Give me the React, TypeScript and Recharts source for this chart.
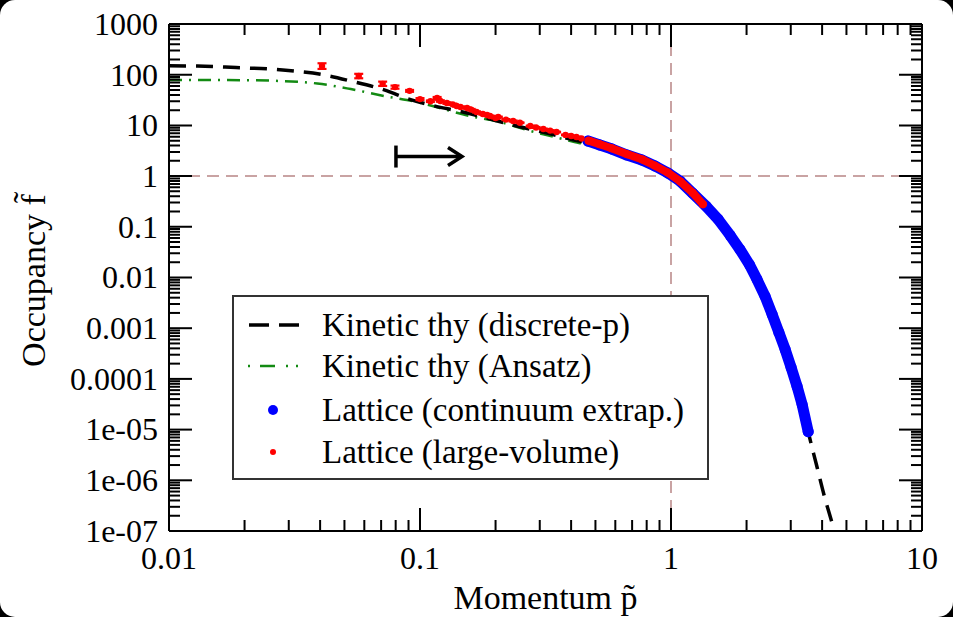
import React from 'react';
import {
  ComposedChart,
  Line,
  Scatter,
  XAxis,
  YAxis,
  ReferenceLine,
  Legend,
  ErrorBar,
} from 'recharts';

const FONT = '"Liberation Serif", "Times New Roman", Times, serif';

// ---------- ticks ----------
const xMajorTicks = [0.01, 0.1, 1, 10];
const xTickLabels = ['0.01', '0.1', '1', '10'];
const yMajorTicks = [1e-7, 1e-6, 1e-5, 1e-4, 1e-3, 0.01, 0.1, 1, 10, 100, 1000];
const yTickLabels = ['1e-07', '1e-06', '1e-05', '0.0001', '0.001', '0.01', '0.1', '1', '10', '100', '1000'];
const minorMultipliers = [2, 3, 4, 5, 6, 7, 8, 9];

const withMinors = (majors: number[]) => {
  const out: number[] = [];
  majors.forEach((m, i) => {
    out.push(m);
    if (i < majors.length - 1) minorMultipliers.forEach((k) => out.push(k * m));
  });
  return out;
};
const xTicks = withMinors(xMajorTicks);
const yTicks = withMinors(yMajorTicks);

// ---------- data ----------
// Kinetic theory (discrete-p), black dashed
const discreteP = [
  { p: 0.01, f: 150 }, { p: 0.013, f: 148 }, { p: 0.0185, f: 138 }, { p: 0.026, f: 128 },
  { p: 0.032, f: 117 }, { p: 0.041, f: 100 }, { p: 0.053, f: 75 }, { p: 0.074, f: 48 },
  { p: 0.0887, f: 34 }, { p: 0.113, f: 24.5 }, { p: 0.148, f: 18.4 }, { p: 0.2, f: 12.5 },
  { p: 0.25, f: 9.4 }, { p: 0.33, f: 6.8 }, { p: 0.43, f: 4.9 }, { p: 0.52, f: 4.1 },
  { p: 0.67, f: 2.6 }, { p: 0.86, f: 1.58 }, { p: 1.09, f: 0.8 }, { p: 1.38, f: 0.255 },
  { p: 1.72, f: 0.068 }, { p: 2.05, f: 0.0182 }, { p: 2.37, f: 0.00425 }, { p: 2.69, f: 8.3e-4 },
  { p: 3.01, f: 1.68e-4 }, { p: 3.33, f: 3.1e-5 }, { p: 3.52, f: 9.1e-6 }, { p: 3.8, f: 2.0e-6 },
  { p: 4.1, f: 4.5e-7 }, { p: 4.38, f: 1.45e-7 }, { p: 4.55, f: 7e-8 },
];

// Kinetic theory (Ansatz), green dash-dot
const ansatz = [
  { p: 0.01, f: 79 }, { p: 0.02, f: 78 }, { p: 0.028, f: 75 }, { p: 0.039, f: 67 },
  { p: 0.053, f: 52 }, { p: 0.074, f: 37 }, { p: 0.097, f: 29 }, { p: 0.12, f: 22 },
  { p: 0.158, f: 15.3 }, { p: 0.208, f: 11.7 }, { p: 0.275, f: 7.8 }, { p: 0.37, f: 5.4 },
  { p: 0.43, f: 4.5 }, { p: 0.52, f: 3.9 }, { p: 0.67, f: 2.5 }, { p: 0.86, f: 1.5 },
  { p: 1.0, f: 1.05 },
];

// Lattice (continuum extrap.), blue
const continuum = [
  { p: 0.467, f: 4.92 }, { p: 0.521, f: 4.1 }, { p: 0.582, f: 3.42 }, { p: 0.668, f: 2.6 },
  { p: 0.766, f: 2.07 }, { p: 0.864, f: 1.58 }, { p: 0.973, f: 1.15 }, { p: 1.086, f: 0.8 },
  { p: 1.22, f: 0.46 }, { p: 1.38, f: 0.255 }, { p: 1.54, f: 0.141 }, { p: 1.72, f: 0.068 },
  { p: 1.88, f: 0.036 }, { p: 2.05, f: 0.0182 }, { p: 2.2, f: 0.0092 }, { p: 2.37, f: 0.00425 },
  { p: 2.53, f: 0.00187 }, { p: 2.69, f: 8.26e-4 }, { p: 2.85, f: 3.81e-4 }, { p: 3.01, f: 1.68e-4 },
  { p: 3.18, f: 7.08e-5 }, { p: 3.33, f: 3.12e-5 }, { p: 3.52, f: 9.1e-6 },
];

// Lattice (large-volume), red band
const largeVolumeBand = [
  { p: 0.47, f: 5.0 }, { p: 0.52, f: 4.25 }, { p: 0.58, f: 3.55 }, { p: 0.67, f: 2.7 },
  { p: 0.77, f: 2.12 }, { p: 0.86, f: 1.62 }, { p: 0.97, f: 1.18 }, { p: 1.09, f: 0.78 },
  { p: 1.22, f: 0.47 }, { p: 1.34, f: 0.28 },
];

// Lattice (large-volume), red points with error bars
const largeVolumePoints = [
  { p: 0.0407, f: 148, err: [18, 20] }, { p: 0.057, f: 94, err: [9, 10] },
  { p: 0.071, f: 66, err: [6, 7] }, { p: 0.0795, f: 57, err: [4, 4] },
  { p: 0.0909, f: 48, err: [2, 2] }, { p: 0.1, f: 33, err: [1.5, 1.5] },
  { p: 0.11, f: 30, err: [1, 1] }, { p: 0.117, f: 34.8, err: [1.5, 1.5] },
  { p: 0.1205, f: 30.3, err: [1, 1] }, { p: 0.128, f: 27.6, err: [1, 1] },
  { p: 0.135, f: 26, err: [0.8, 0.8] }, { p: 0.14, f: 24.2, err: [0.8, 0.8] },
  { p: 0.145, f: 23, err: [0.7, 0.7] }, { p: 0.154, f: 22, err: [0.7, 0.7] },
  { p: 0.16, f: 20.5, err: [0.6, 0.6] }, { p: 0.168, f: 18.4, err: [0.5, 0.5] },
  { p: 0.178, f: 16.8, err: [0.5, 0.5] }, { p: 0.185, f: 16, err: [0.4, 0.4] },
  { p: 0.19, f: 15.3, err: [0.4, 0.4] }, { p: 0.2, f: 14, err: [0.3, 0.3] },
  { p: 0.205, f: 14.6, err: [0.3, 0.3] }, { p: 0.22, f: 13, err: [0.3, 0.3] },
  { p: 0.235, f: 12.2, err: [0.3, 0.3] }, { p: 0.25, f: 11.3, err: [0.2, 0.2] },
  { p: 0.275, f: 9.7, err: [0.2, 0.2] }, { p: 0.29, f: 9.1, err: [0.2, 0.2] },
  { p: 0.31, f: 8.5, err: [0.15, 0.15] }, { p: 0.33, f: 7.9, err: [0.15, 0.15] },
  { p: 0.35, f: 7.4, err: [0.1, 0.1] }, { p: 0.38, f: 6.5, err: [0.1, 0.1] },
  { p: 0.4, f: 6.2, err: [0.1, 0.1] }, { p: 0.42, f: 5.9, err: [0.1, 0.1] },
  { p: 0.44, f: 5.5, err: [0.1, 0.1] },
];

// arrow annotation
const arrowStart = { p: 0.0802, f: 2.43 };
const arrowEnd = { p: 0.147, f: 2.43 };

const legendEntries = [
  { label: 'Kinetic thy (discrete-p)', kind: 'dash' },
  { label: 'Kinetic thy (Ansatz)', kind: 'dashdot' },
  { label: 'Lattice (continuum extrap.)', kind: 'blue' },
  { label: 'Lattice (large-volume)', kind: 'red' },
];

const xAxisTitle = 'Momentum p\u0303';
const yAxisTitle = 'Occupancy f\u0303';

// ---------- colors ----------
const BLUE = '#0000ff';
const RED = '#ff0000';
const GREEN = '#138a13';
const REFC = '#c9a3a3';

// ---------- tick renderers ----------
const BottomTick = (props: any) => {
  const { x, y, payload } = props;
  const idx = xMajorTicks.indexOf(payload.value);
  const len = idx >= 0 ? 23 : 11;
  return (
    <g>
      <line x1={x} y1={y} x2={x} y2={y - len} stroke="#000" strokeWidth={2} />
      {idx >= 0 && (
        <text x={x} y={y + 38} textAnchor="middle" fontFamily={FONT} fontSize={32} fill="#000">
          {xTickLabels[idx]}
        </text>
      )}
    </g>
  );
};

const TopTick = (props: any) => {
  const { x, y, payload } = props;
  const idx = xMajorTicks.indexOf(payload.value);
  const len = idx >= 0 ? 23 : 11;
  return <line x1={x} y1={y} x2={x} y2={y + len} stroke="#000" strokeWidth={2} />;
};

const LeftTick = (props: any) => {
  const { x, y, payload } = props;
  const idx = yMajorTicks.indexOf(payload.value);
  const len = idx >= 0 ? 23 : 11;
  return (
    <g>
      <line x1={x} y1={y} x2={x + len} y2={y} stroke="#000" strokeWidth={2} />
      {idx >= 0 && (
        <text x={x - 11} y={y} dy="0.34em" textAnchor="end" fontFamily={FONT} fontSize={32} fill="#000">
          {yTickLabels[idx]}
        </text>
      )}
    </g>
  );
};

const RightTick = (props: any) => {
  const { x, y, payload } = props;
  const idx = yMajorTicks.indexOf(payload.value);
  const len = idx >= 0 ? 23 : 11;
  return <line x1={x} y1={y} x2={x - len} y2={y} stroke="#000" strokeWidth={2} />;
};

// ---------- legend ----------
const LegendBox = () => {
  const rowCenters = [28, 69, 113, 155];
  return (
    <div
      style={{
        position: 'relative',
        width: 477,
        height: 185,
        boxSizing: 'border-box',
        border: '2px solid #333',
        background: '#fff',
        fontFamily: FONT,
      }}
    >
      {legendEntries.map((e, i) => (
        <div key={e.label} style={{ position: 'absolute', left: 0, top: rowCenters[i] - 18, height: 36, width: 470 }}>
          <svg width={80} height={36} style={{ position: 'absolute', left: 0, top: 0 }}>
            {e.kind === 'dash' && (
              <line x1={15} y1={18} x2={65} y2={18} stroke="#000" strokeWidth={3.5} strokeDasharray="20 10" />
            )}
            {e.kind === 'dashdot' && (
              <g stroke={GREEN} strokeWidth={2.5}>
                <line x1={14} y1={18} x2={16} y2={18} />
                <line x1={26} y1={18} x2={41} y2={18} />
                <line x1={52} y1={18} x2={54} y2={18} />
                <line x1={62} y1={18} x2={64} y2={18} />
              </g>
            )}
            {e.kind === 'blue' && <circle cx={39} cy={18} r={5} fill={BLUE} />}
            {e.kind === 'red' && <circle cx={39} cy={18} r={3} fill={RED} />}
          </svg>
          <div
            style={{
              position: 'absolute',
              left: 88,
              top: 0,
              lineHeight: '36px',
              fontSize: 33,
              color: '#000',
              whiteSpace: 'nowrap',
            }}
          >
            {e.label}
          </div>
        </div>
      ))}
    </div>
  );
};

// ---------- arrow shape ----------
const ArrowShape = (props: any) => {
  const { x1, y1, x2, y2 } = props;
  if ([x1, y1, x2, y2].some((v) => typeof v !== 'number' || isNaN(v))) return null;
  return (
    <g>
      <line x1={x1} y1={y1} x2={x2 - 2} y2={y2} stroke="#000" strokeWidth={3.5} />
      <line x1={x1} y1={y1 - 11} x2={x1} y2={y1 + 11} stroke="#000" strokeWidth={3.5} />
      <polyline
        points={`${x2 - 14},${y2 - 9} ${x2},${y2} ${x2 - 14},${y2 + 9}`}
        fill="none"
        stroke="#000"
        strokeWidth={3.5}
        strokeLinejoin="miter"
      />
    </g>
  );
};

const dot = (r: number, color: string) => (props: any) => {
  const { cx, cy } = props;
  if (typeof cx !== 'number' || typeof cy !== 'number') return <g />;
  return <circle cx={cx} cy={cy} r={r} fill={color} />;
};

export default function App() {
  return (
    <div style={{ position: 'absolute', left: 0, top: 0, width: 953, height: 617, background: '#000' }}>
      <div
        style={{
          position: 'absolute',
          left: 0,
          top: 0,
          width: 953,
          height: 617,
          background: '#fff',
          borderRadius: 15,
          overflow: 'hidden',
        }}
      >
        <ComposedChart width={953} height={617} margin={{ top: 0, right: 0, bottom: 0, left: 0 }}>
          <XAxis
            xAxisId={0}
            dataKey="p"
            type="number"
            scale="log"
            domain={[0.01, 10]}
            allowDataOverflow
            ticks={xTicks}
            interval={0}
            tickSize={0}
            tickMargin={0}
            tickLine={false}
            tick={<BottomTick />}
            axisLine={{ stroke: '#000', strokeWidth: 2 }}
            height={86}
            orientation="bottom"
            label={{
              content: (p: any) => {
                const vb = p.viewBox || {};
                return (
                  <text
                    x={vb.x + vb.width / 2}
                    y={vb.y + 78}
                    textAnchor="middle"
                    fontFamily={FONT}
                    fontSize={34}
                    fill="#000"
                  >
                    {xAxisTitle}
                  </text>
                );
              },
            }}
          />
          <XAxis
            xAxisId="top"
            dataKey="p"
            type="number"
            scale="log"
            domain={[0.01, 10]}
            allowDataOverflow
            ticks={xTicks}
            interval={0}
            tickSize={0}
            tickMargin={0}
            tickLine={false}
            tick={<TopTick />}
            axisLine={{ stroke: '#000', strokeWidth: 2 }}
            height={24}
            orientation="top"
          />
          <YAxis
            yAxisId={0}
            dataKey="f"
            type="number"
            scale="log"
            domain={[1e-7, 1000]}
            allowDataOverflow
            ticks={yTicks}
            interval={0}
            tickSize={0}
            tickMargin={0}
            tickLine={false}
            tick={<LeftTick />}
            axisLine={{ stroke: '#000', strokeWidth: 2 }}
            width={169}
            orientation="left"
            label={{
              content: (p: any) => {
                const vb = p.viewBox || {};
                const cy = vb.y + vb.height / 2 + 3;
                return (
                  <text
                    x={45}
                    y={cy}
                    transform={`rotate(-90, 45, ${cy})`}
                    textAnchor="middle"
                    fontFamily={FONT}
                    fontSize={34}
                    fill="#000"
                  >
                    {yAxisTitle}
                  </text>
                );
              },
            }}
          />
          <YAxis
            yAxisId="right"
            dataKey="f"
            type="number"
            scale="log"
            domain={[1e-7, 1000]}
            allowDataOverflow
            ticks={yTicks}
            interval={0}
            tickSize={0}
            tickMargin={0}
            tickLine={false}
            tick={<RightTick />}
            axisLine={{ stroke: '#000', strokeWidth: 2 }}
            width={31}
            orientation="right"
          />

          <ReferenceLine x={1} stroke={REFC} strokeWidth={2} strokeDasharray="12 7" />
          <ReferenceLine y={1} stroke={REFC} strokeWidth={2} strokeDasharray="12 7" />

          <Line
            data={ansatz}
            dataKey="f"
            type="monotone"
            stroke={GREEN}
            strokeWidth={2.5}
            strokeDasharray="13 7 2 7"
            dot={false}
            activeDot={false}
            isAnimationActive={false}
          />
          <Line
            data={discreteP}
            dataKey="f"
            type="monotone"
            stroke="#000"
            strokeWidth={3.5}
            strokeDasharray="17 10"
            dot={false}
            activeDot={false}
            isAnimationActive={false}
          />
          <Scatter
            data={continuum}
            dataKey="f"
            fill={BLUE}
            line={{ stroke: BLUE, strokeWidth: 11, strokeLinecap: 'round', strokeLinejoin: 'round' } as any}
            shape={dot(5.5, BLUE)}
            isAnimationActive={false}
          />
          <Scatter
            data={largeVolumeBand}
            dataKey="f"
            fill={RED}
            line={{ stroke: RED, strokeWidth: 8, strokeLinecap: 'round', strokeLinejoin: 'round' } as any}
            shape={dot(4, RED)}
            isAnimationActive={false}
          />
          <Scatter data={largeVolumePoints} dataKey="f" fill={RED} shape={dot(3.2, RED)} isAnimationActive={false}>
            <ErrorBar dataKey="err" direction="y" width={4.5} strokeWidth={2.2} stroke={RED} />
          </Scatter>

          <ReferenceLine
            segment={[
              { x: arrowStart.p, y: arrowStart.f },
              { x: arrowEnd.p, y: arrowEnd.f },
            ]}
            shape={ArrowShape}
          />

          <Legend
            layout="vertical"
            align="center"
            verticalAlign="middle"
            content={() => <LegendBox />}
            wrapperStyle={{ position: 'absolute', left: 232, top: 295, width: 477, height: 185 }}
          />
        </ComposedChart>
      </div>
    </div>
  );
}
